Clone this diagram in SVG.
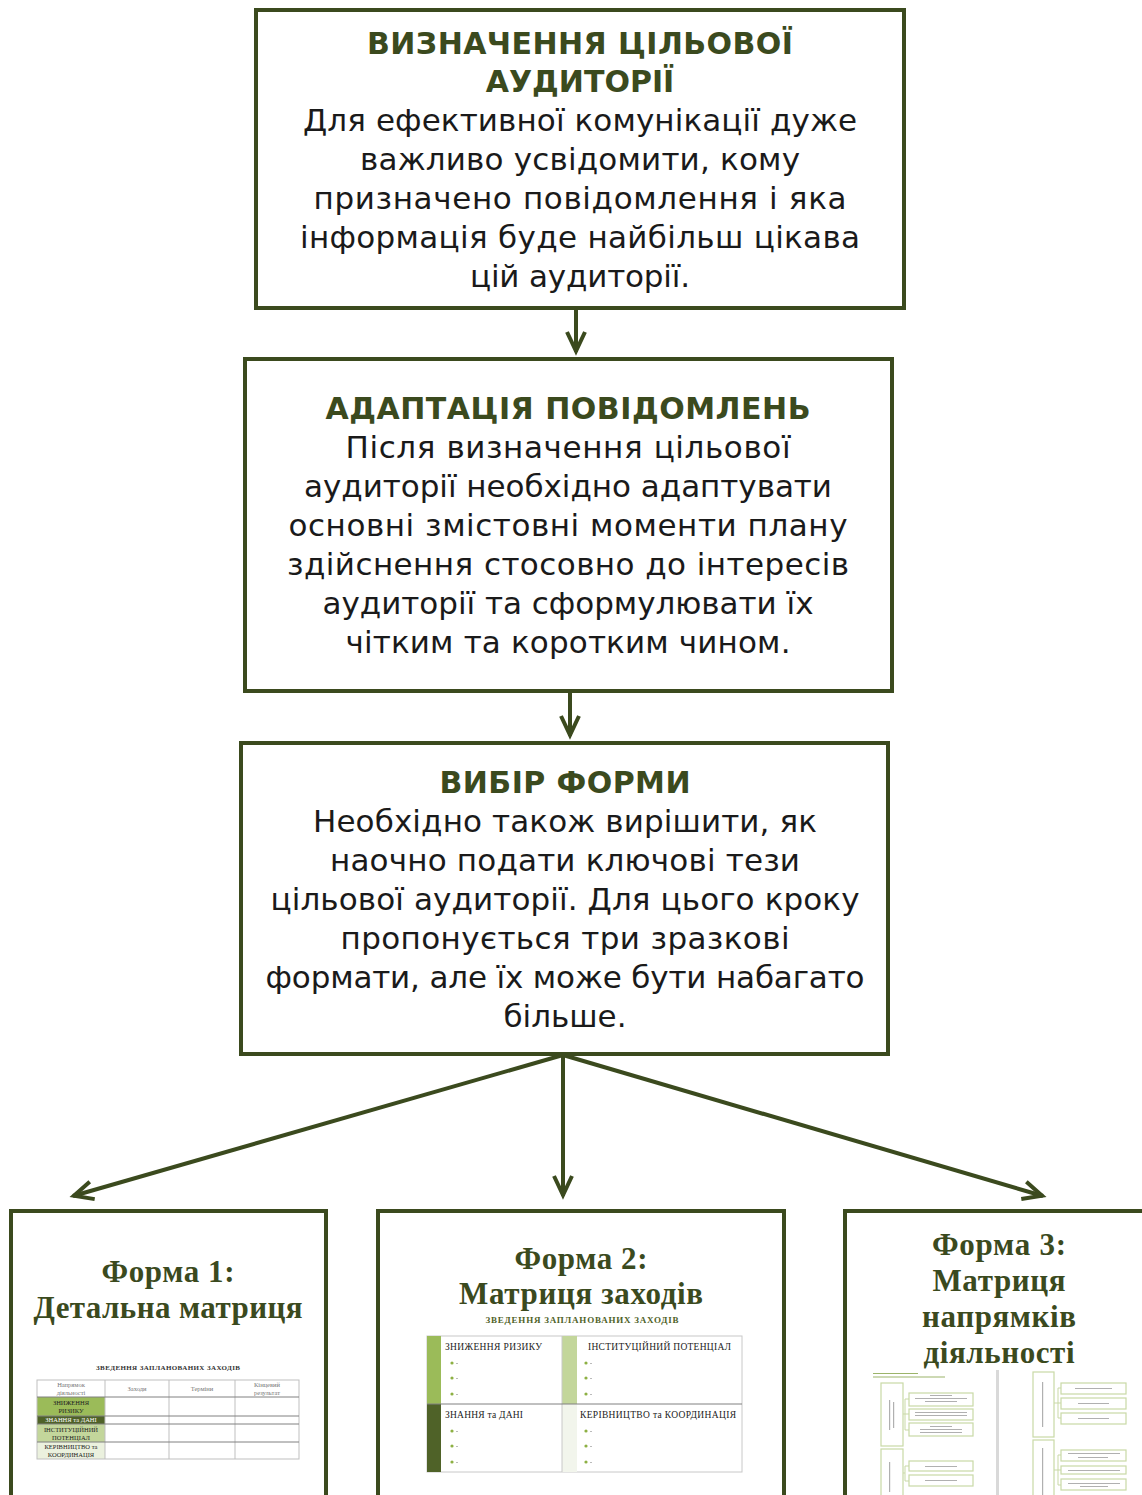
<svg xmlns="http://www.w3.org/2000/svg" width="1142" height="1495" viewBox="0 0 1142 1495">
<style>
.box{fill:#fff;stroke:#3b4a1e;stroke-width:4}
.title{font-family:"DejaVu Sans",sans-serif;font-weight:700;font-size:30px;fill:#3b4a1e;text-anchor:middle}
.body{font-family:"DejaVu Sans",sans-serif;font-size:31px;fill:#1a1a1a;text-anchor:middle}
.conn{stroke:#3b4a1e;stroke-width:4;fill:none;marker-end:url(#arr)}
.ser{font-family:"Liberation Serif",serif;font-weight:700;font-size:31px;fill:#3b4a1e;text-anchor:middle}
.tiny{font-family:"Liberation Serif",serif;font-size:9.5px;fill:#222}
.tinyc{font-family:"Liberation Serif",serif;font-size:6.5px;fill:#777;text-anchor:middle}
.lbl{font-family:"Liberation Serif",serif;font-size:6.5px;fill:#222;text-anchor:middle}
.grid{stroke:#bfbfbf;stroke-width:1;fill:none}
.sgrid{stroke:#808080;stroke-width:1}
.bul{fill:#8db043}
.dash{fill:#aaa}
.mb{fill:#fff;stroke:#c9d9a6;stroke-width:1.2}
.gl{fill:#b0b0b0}
</style>
<defs>
<marker id="arr" markerUnits="userSpaceOnUse" markerWidth="34" markerHeight="34" viewBox="0 0 34 34" refX="28" refY="17" orient="auto">
<path d="M8,8 L27,17 L8,26" fill="none" stroke="#3b4a1e" stroke-width="4"/>
</marker>
</defs>

<g id="connectors">
<path class="conn" d="M576,309 L576,352"/>
<path class="conn" d="M570,692 L570,736"/>
<path class="conn" d="M563,1055 L73,1196"/>
<path class="conn" d="M563,1055 L563,1196"/>
<path class="conn" d="M563,1055 L1043,1196"/>
</g>

<g id="node-audience">
<rect class="box" x="256" y="10" width="648" height="298"/>
<text class="title" x="580" y="54" textLength="426">ВИЗНАЧЕННЯ ЦІЛЬОВОЇ</text>
<text class="title" x="580" y="92">АУДИТОРІЇ</text>
<text class="body" x="580" y="131" textLength="554">Для ефективної комунікації дуже</text>
<text class="body" x="580" y="170" textLength="440">важливо усвідомити, кому</text>
<text class="body" x="580" y="209" textLength="533">призначено повідомлення і яка</text>
<text class="body" x="580" y="248" textLength="560">інформація буде найбільш цікава</text>
<text class="body" x="580" y="287" textLength="220">цій аудиторії.</text>
</g>

<g id="node-adaptation">
<rect class="box" x="245" y="359" width="647" height="332"/>
<text class="title" x="568" y="419" textLength="485">АДАПТАЦІЯ ПОВІДОМЛЕНЬ</text>
<text class="body" x="568" y="458" textLength="445">Після визначення цільової</text>
<text class="body" x="568" y="497" textLength="528">аудиторії необхідно адаптувати</text>
<text class="body" x="568" y="536" textLength="559">основні змістовні моменти плану</text>
<text class="body" x="568" y="575" textLength="562">здійснення стосовно до інтересів</text>
<text class="body" x="568" y="614" textLength="491">аудиторії та сформулювати їх</text>
<text class="body" x="568" y="653" textLength="445">чітким та коротким чином.</text>
</g>

<g id="node-form">
<rect class="box" x="241" y="743" width="647" height="311"/>
<text class="title" x="565" y="793" textLength="251">ВИБІР ФОРМИ</text>
<text class="body" x="565" y="832" textLength="504">Необхідно також вирішити, як</text>
<text class="body" x="565" y="871" textLength="470">наочно подати ключові тези</text>
<text class="body" x="565" y="910" textLength="589">цільової аудиторії. Для цього кроку</text>
<text class="body" x="565" y="949" textLength="449">пропонується три зразкові</text>
<text class="body" x="565" y="988" textLength="599">формати, але їх може бути набагато</text>
<text class="body" x="565" y="1027" textLength="123">більше.</text>
</g>

<g id="node-form1">
<rect class="box" x="11" y="1211" width="315" height="300"/>
<text class="ser" x="168" y="1282" textLength="133">Форма 1:</text>
<text class="ser" x="168" y="1318" textLength="269">Детальна матриця</text>
<text x="168" y="1370" font-family="Liberation Serif, serif" font-weight="700" font-size="7px" fill="#333" text-anchor="middle" textLength="144">ЗВЕДЕННЯ ЗАПЛАНОВАНИХ ЗАХОДІВ</text>
<rect x="37" y="1397" width="68" height="19" fill="#9bbb59"/>
<rect x="37" y="1416" width="68" height="8" fill="#4f6228"/>
<rect x="37" y="1424" width="68" height="18" fill="#c3d69b"/>
<rect x="37" y="1442" width="68" height="17" fill="#ebf1de"/>
<rect class="grid" x="37" y="1380" width="262" height="79"/>
<path class="grid" d="M105,1380V1459M169,1380V1459M235,1380V1459"/>
<path class="sgrid" d="M37,1397H299M37,1416H299M37,1424H299M37,1442H299"/>
<text class="tinyc" x="71" y="1387">Напрямок</text>
<text class="tinyc" x="71" y="1395">діяльності</text>
<text class="tinyc" x="137" y="1391">Заходи</text>
<text class="tinyc" x="202" y="1391">Терміни</text>
<text class="tinyc" x="267" y="1387">Кінцевий</text>
<text class="tinyc" x="267" y="1395">результат</text>
<text class="lbl" x="71" y="1405">ЗНИЖЕННЯ</text>
<text class="lbl" x="71" y="1413">РИЗИКУ</text>
<text class="lbl" x="71" y="1422" style="fill:#fff">ЗНАННЯ та ДАНІ</text>
<text class="lbl" x="71" y="1432">ІНСТИТУЦІЙНИЙ</text>
<text class="lbl" x="71" y="1440">ПОТЕНЦІАЛ</text>
<text class="lbl" x="71" y="1449">КЕРІВНИЦТВО та</text>
<text class="lbl" x="71" y="1457">КООРДИНАЦІЯ</text>
</g>

<g id="node-form2">
<rect class="box" x="378" y="1211" width="406" height="300"/>
<text class="ser" x="581" y="1269" textLength="133">Форма 2:</text>
<text class="ser" x="581" y="1304" textLength="244">Матриця заходів</text>
<text x="582" y="1323" font-family="Liberation Serif, serif" font-weight="700" font-size="9px" fill="#4f6228" text-anchor="middle" textLength="193">ЗВЕДЕННЯ ЗАПЛАНОВАНИХ ЗАХОДІВ</text>
<rect x="427" y="1336" width="315" height="136" fill="#fff" stroke="#c8c8c8" stroke-width="1"/>
<rect x="427" y="1336" width="14" height="68" fill="#9bbb59"/>
<rect x="562" y="1336" width="15" height="68" fill="#c3d69b"/>
<rect x="427" y="1404" width="14" height="68" fill="#4f6228"/>
<rect x="562" y="1404" width="15" height="68" fill="#f2f5ec"/>
<path d="M562,1336V1472" stroke="#c8c8c8" stroke-width="1"/>
<path d="M427,1404H742" stroke="#808080" stroke-width="1"/>
<text class="tiny" x="445" y="1350" textLength="97">ЗНИЖЕННЯ РИЗИКУ</text>
<text class="tiny" x="588" y="1350" textLength="143">ІНСТИТУЦІЙНИЙ ПОТЕНЦІАЛ</text>
<text class="tiny" x="445" y="1418" textLength="78">ЗНАННЯ та ДАНІ</text>
<text class="tiny" x="580" y="1418" textLength="156">КЕРІВНИЦТВО та КООРДИНАЦІЯ</text>
<g class="bul">
<circle cx="452" cy="1363" r="1.6"/><circle cx="452" cy="1378" r="1.6"/><circle cx="452" cy="1394" r="1.6"/>
<circle cx="586" cy="1363" r="1.6"/><circle cx="586" cy="1378" r="1.6"/><circle cx="586" cy="1394" r="1.6"/>
<circle cx="452" cy="1431" r="1.6"/><circle cx="452" cy="1446" r="1.6"/><circle cx="452" cy="1462" r="1.6"/>
<circle cx="586" cy="1431" r="1.6"/><circle cx="586" cy="1446" r="1.6"/><circle cx="586" cy="1462" r="1.6"/>
</g>
<g class="dash">
<rect x="456" y="1363" width="2" height="0.8"/><rect x="456" y="1378" width="2" height="0.8"/><rect x="456" y="1394" width="2" height="0.8"/>
<rect x="590" y="1363" width="2" height="0.8"/><rect x="590" y="1378" width="2" height="0.8"/><rect x="590" y="1394" width="2" height="0.8"/>
<rect x="456" y="1431" width="2" height="0.8"/><rect x="456" y="1446" width="2" height="0.8"/><rect x="456" y="1462" width="2" height="0.8"/>
<rect x="590" y="1431" width="2" height="0.8"/><rect x="590" y="1446" width="2" height="0.8"/><rect x="590" y="1462" width="2" height="0.8"/>
</g>
</g>

<g id="node-form3">
<rect class="box" x="845" y="1211" width="320" height="300"/>
<text class="ser" x="999" y="1255" textLength="134">Форма 3:</text>
<text class="ser" x="999" y="1291" textLength="133">Матриця</text>
<text class="ser" x="999" y="1327" textLength="154">напрямків</text>
<text class="ser" x="999" y="1363" textLength="151">діяльності</text>
<rect x="996" y="1370" width="3" height="125" fill="#d9d9d9"/>
<rect x="873" y="1373" width="45" height="1" fill="#9cb46a"/>
<rect x="873" y="1376.5" width="72" height="1" fill="#9cb46a"/>
<rect class="mb" x="881" y="1383" width="22" height="63"/>
<rect class="mb" x="909" y="1393" width="64" height="13"/>
<rect class="mb" x="909" y="1409" width="64" height="11"/>
<rect class="mb" x="909" y="1423" width="64" height="13"/>
<rect class="mb" x="881" y="1449" width="22" height="50"/>
<rect class="mb" x="909" y="1461" width="64" height="10"/>
<rect class="mb" x="909" y="1475" width="64" height="11"/>
<path d="M905,1399V1430M905,1399H909M905,1414H909M905,1430H909M903,1414H905M905,1466V1481M905,1466H909M905,1481H909M903,1473H905" stroke="#c9d9a6" stroke-width="1" fill="none"/>
<rect class="mb" x="1033" y="1372" width="21" height="65"/>
<rect class="mb" x="1061" y="1383" width="65" height="11"/>
<rect class="mb" x="1061" y="1398" width="65" height="11"/>
<rect class="mb" x="1061" y="1413" width="65" height="11"/>
<rect class="mb" x="1033" y="1440" width="21" height="60"/>
<rect class="mb" x="1061" y="1450" width="65" height="11"/>
<rect class="mb" x="1061" y="1466" width="65" height="8"/>
<rect class="mb" x="1061" y="1479" width="65" height="11"/>
<path d="M1058,1388V1418M1058,1388H1061M1058,1403H1061M1058,1418H1061M1054,1403H1058M1058,1455V1485M1058,1455H1061M1058,1470H1061M1058,1485H1061M1054,1470H1058" stroke="#c9d9a6" stroke-width="1" fill="none"/>
<g class="gl">
<rect x="889" y="1400" width="1.2" height="30"/><rect x="893" y="1402" width="1.2" height="26"/>
<rect x="889" y="1462" width="1.2" height="30"/>
<rect x="1042" y="1382" width="1.2" height="45"/>
<rect x="1042" y="1448" width="1.2" height="47"/>
<rect x="930" y="1395" width="22" height="1"/><rect x="915" y="1398" width="52" height="1"/><rect x="925" y="1401" width="32" height="1"/>
<rect x="915" y="1412" width="52" height="1"/><rect x="915" y="1415" width="52" height="1"/>
<rect x="930" y="1426" width="22" height="1"/><rect x="920" y="1429" width="42" height="1"/><rect x="920" y="1432" width="42" height="1"/>
<rect x="925" y="1466" width="32" height="1"/>
<rect x="925" y="1480" width="32" height="1"/>
<rect x="1075" y="1388" width="37" height="1"/>
<rect x="1078" y="1403" width="31" height="1"/>
<rect x="1078" y="1418" width="31" height="1"/>
<rect x="1068" y="1453" width="52" height="1"/><rect x="1078" y="1457" width="30" height="1"/>
<rect x="1068" y="1470" width="52" height="1"/>
<rect x="1068" y="1483" width="52" height="1"/><rect x="1080" y="1486" width="28" height="1"/>
</g>
</g>
</svg>
